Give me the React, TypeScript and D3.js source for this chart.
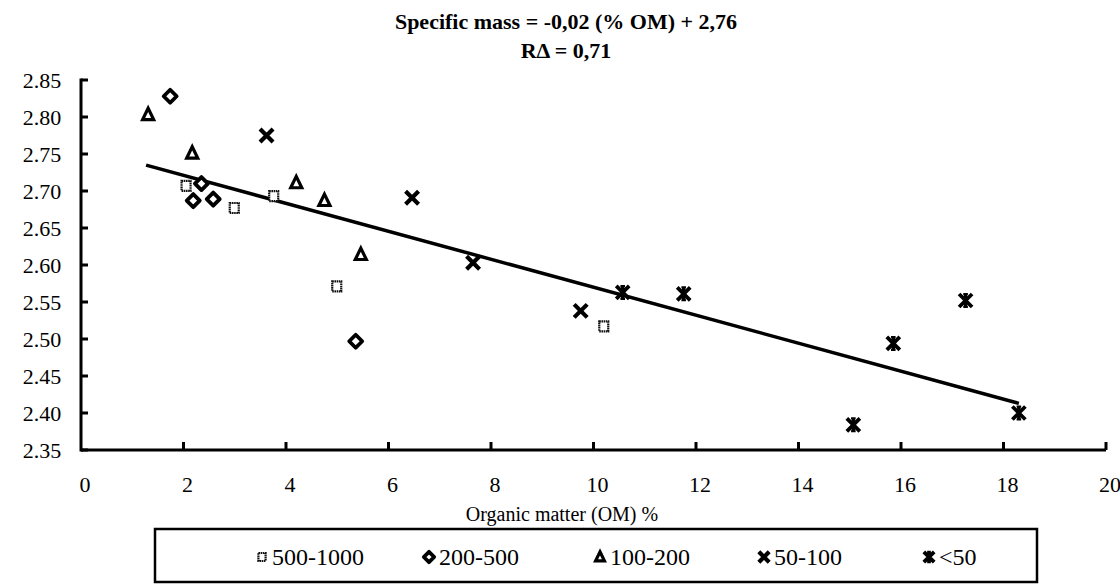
import React from "react";
import * as d3 from "d3";

const W = 1120;
const H = 585;

// data: [organic matter %, specific mass]
const sq500_1000: [number, number][] = [
  [2.05, 2.707], [2.99, 2.677], [3.76, 2.693], [4.99, 2.571], [10.2, 2.517],
];
const dia200_500: [number, number][] = [
  [1.74, 2.828], [2.35, 2.71], [2.19, 2.687], [2.58, 2.689], [5.36, 2.497],
];
const tri100_200: [number, number][] = [
  [1.31, 2.803], [2.17, 2.751], [4.2, 2.711], [4.75, 2.687], [5.46, 2.614],
];
const x50_100: [number, number][] = [
  [3.62, 2.775], [6.46, 2.691], [7.65, 2.603], [9.75, 2.538],
];
const lt50: [number, number][] = [
  [10.57, 2.563], [11.76, 2.561], [15.07, 2.384], [15.85, 2.494], [17.26, 2.552], [18.3, 2.4],
];
const trendX = [1.27, 18.3];
const trendY = [2.735, 2.413];

const xTicks = [0, 2, 4, 6, 8, 10, 12, 14, 16, 18, 20];
const yTicks = [2.35, 2.4, 2.45, 2.5, 2.55, 2.6, 2.65, 2.7, 2.75, 2.8, 2.85];
const legendLabels = ["500-1000", "200-500", "100-200", "50-100", "<50"];

const FONT = "'Times New Roman', Times, 'Liberation Serif', 'DejaVu Serif', serif";
const tStyle: React.CSSProperties = { fontFamily: FONT };

type Kind = "square" | "diamond" | "triangle" | "x" | "star";

function Marker({ kind, x, y, s = 1 }: { kind: Kind; x: number; y: number; s?: number }) {
  const k = s;
  if (kind === "square") {
    return (
      <rect x={x - 4.5 * k} y={y - 5 * k} width={9 * k} height={10 * k} fill="white" stroke="#111" strokeWidth={2.2} strokeDasharray="1.6 0.6" />
    );
  }
  if (kind === "diamond") {
    const r = 6.5 * k;
    return (
      <path d={`M${x},${y - r}L${x + r},${y}L${x},${y + r}L${x - r},${y}Z`} fill="white" stroke="#000" strokeWidth={3.8} strokeLinejoin="round" />
    );
  }
  if (kind === "triangle") {
    const r = 6.5 * k;
    return (
      <path d={`M${x},${y - r}L${x + r * 0.85},${y + r * 0.75}L${x - r * 0.85},${y + r * 0.75}Z`} fill="white" stroke="#000" strokeWidth={3.2} strokeLinejoin="miter" />
    );
  }
  if (kind === "x") {
    const r = 6.5 * k;
    return (
      <path d={`M${x - r},${y - r}L${x + r},${y + r}M${x - r},${y + r}L${x + r},${y - r}`} stroke="#000" strokeWidth={4.2} />
    );
  }
  const r = 6.5 * k;
  return (
    <g>
      <path d={`M${x - r},${y - r}L${x + r},${y + r}M${x - r},${y + r}L${x + r},${y - r}`} stroke="#000" strokeWidth={3.8} />
      <path d={`M${x},${y - r}L${x},${y + r}`} stroke="#000" strokeWidth={3.6} />
      <path d={`M${x - r * 0.35},${y - r}L${x + r * 0.35},${y - r}M${x - r * 0.35},${y + r}L${x + r * 0.35},${y + r}`} stroke="#000" strokeWidth={2} />
    </g>
  );
}

export default function App() {
  const left = 81;
  const right = 1106;
  const top = 80;
  const bottom = 450;
  const x = d3.scaleLinear().domain([0, 20]).range([left, right]);
  const y = d3.scaleLinear().domain([2.35, 2.85]).range([bottom, top]);

  const series: { kind: Kind; data: [number, number][] }[] = [
    { kind: "square", data: sq500_1000 },
    { kind: "diamond", data: dia200_500 },
    { kind: "triangle", data: tri100_200 },
    { kind: "x", data: x50_100 },
    { kind: "star", data: lt50 },
  ];

  const line = d3.line<number>().x((_, i) => x(trendX[i])).y((_, i) => y(trendY[i]));

  const legendXs = [262, 429, 600, 764, 929];

  return (
    <svg width={W} height={H} style={{ position: "absolute", left: 0, top: 0, background: "white", fontFamily: FONT }}>
      <rect width={W} height={H} fill="white" />
      <text x={566} y={29} textAnchor="middle" fontSize={22} fontWeight="bold" style={tStyle}>
        Specific mass = -0,02 (% OM) + 2,76
      </text>
      <text x={566} y={58} textAnchor="middle" fontSize={22} fontWeight="bold" style={tStyle}>
        RΔ = 0,71
      </text>

      {/* axes */}
      <line x1={left} y1={y(2.85) - 1.5} x2={left} y2={bottom + 1.5} stroke="#000" strokeWidth={3} />
      <line x1={left} y1={bottom} x2={right} y2={bottom} stroke="#000" strokeWidth={3} />
      {yTicks.map((t) => (
        <g key={"y" + t}>
          <line x1={left} x2={left + 7} y1={y(t)} y2={y(t)} stroke="#000" strokeWidth={3} />
          <text x={left - 39} y={y(t)} dy="0.35em" textAnchor="middle" fontSize={22} style={tStyle}>
            {t.toFixed(2)}
          </text>
        </g>
      ))}
      {xTicks.map((t) => (
        <g key={"x" + t}>
          {t > 0 && <line x1={x(t)} x2={x(t)} y1={bottom} y2={bottom - 8} stroke="#000" strokeWidth={3} />}
          <text x={x(t) + 4} y={484} dy="0.35em" textAnchor="middle" fontSize={22} style={tStyle}>
            {t}
          </text>
        </g>
      ))}
      <text x={562} y={514} dy="0.35em" textAnchor="middle" fontSize={20} style={tStyle}>
        Organic matter (OM) %
      </text>

      {/* trend */}
      <path d={line([0, 1]) || ""} stroke="#000" strokeWidth={3.5} fill="none" />

      {series.map((s) =>
        s.data.map((d, i) => <Marker key={s.kind + i} kind={s.kind} x={x(d[0])} y={y(d[1])} />)
      )}

      {/* legend */}
      <rect x={155} y={529} width={882} height={53} fill="white" stroke="#000" strokeWidth={2.5} />
      {legendLabels.map((l, i) => (
        <g key={l}>
          <Marker kind={series[i].kind} x={legendXs[i]} y={557} s={0.8} />
          <text x={legendXs[i] + 10} y={557} dy="0.35em" fontSize={24} style={tStyle}>
            {l}
          </text>
        </g>
      ))}
    </svg>
  );
}
